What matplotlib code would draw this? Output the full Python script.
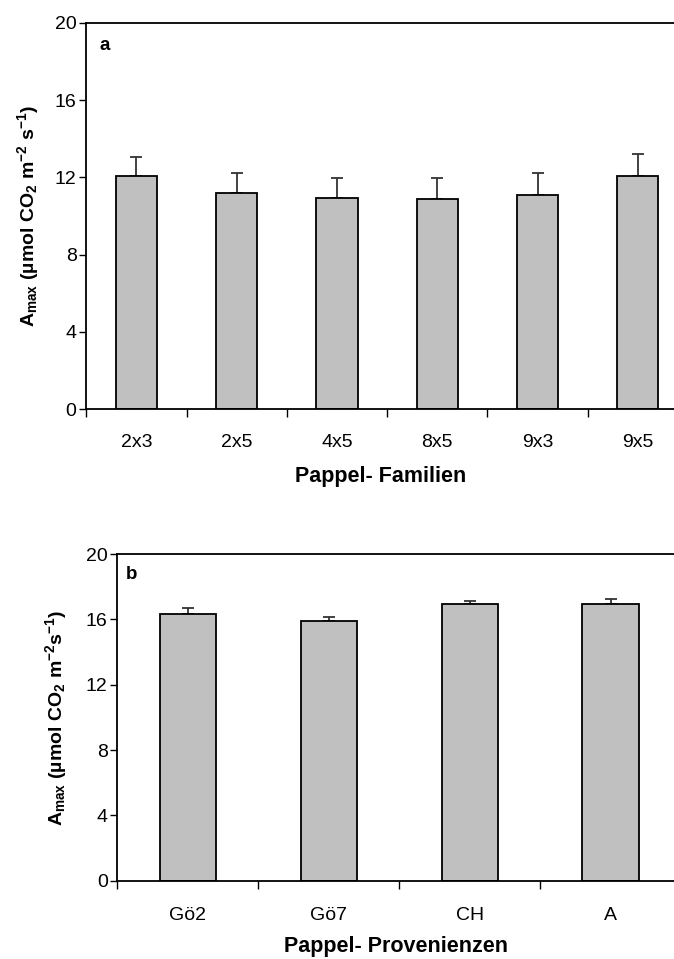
import numpy as np
import matplotlib.pyplot as plt
from matplotlib.ticker import FixedLocator, NullFormatter

families = ['2x3', '2x5', '4x5', '8x5', '9x3', '9x5']
amax_fam = [12.05, 11.2, 10.95, 10.9, 11.1, 12.05]
err_fam = [1.0, 1.05, 1.0, 1.05, 1.1, 1.15]

provenances = ['Gö2', 'Gö7', 'CH', 'A']
amax_prov = [16.35, 15.9, 16.96, 16.96]
err_prov = [0.37, 0.27, 0.17, 0.27]

yticks = [0, 4, 8, 12, 16, 20]
ylab_a = r'A$_{\mathregular{max}}$ (µmol CO$_{\mathregular{2}}$ m$^{\mathregular{-2}}$ s$^{\mathregular{-1}}$)'
ylab_b = r'A$_{\mathregular{max}}$ (µmol CO$_{\mathregular{2}}$ m$^{\mathregular{-2}}$s$^{\mathregular{-1}}$)'

plt.rcParams['font.family'] = ['Liberation Sans', 'DejaVu Sans']
plt.rcParams['mathtext.default'] = 'regular'

fig = plt.figure(figsize=(6.74, 9.59), dpi=100)
ax1 = fig.add_axes([0.128, 0.5732, 0.872, 0.4031])
ax2 = fig.add_axes([0.1742, 0.0816, 0.8258, 0.3407])


def panel(ax, cats, vals, errs, width, xmax, tag, tagx, xlabel, ylabel,
          tickpad, xpad, ypad):
    x = np.arange(len(cats))
    ax.bar(x, vals, width=width, color='#c0c0c0', edgecolor='black', linewidth=1.3, zorder=2)
    ax.errorbar(x, vals, yerr=[np.zeros(len(vals)), errs], fmt='none',
                ecolor='#333333', elinewidth=1.3, capsize=4, capthick=1.3, zorder=1)
    ax.set_xlim(-0.5, xmax)
    ax.set_ylim(0, 20)
    ax.set_yticks(yticks)
    ax.set_yticklabels([str(v) for v in yticks], fontsize=14)
    # ticks sit between categories, labels at the bar centres
    ax.xaxis.set_major_locator(FixedLocator(np.arange(len(cats)) - 0.5))
    ax.xaxis.set_major_formatter(NullFormatter())
    ax.set_xticks(x, minor=True)
    ax.set_xticklabels(cats, minor=True, fontsize=14)
    ax.tick_params(axis='x', which='major', length=6, width=1, direction='out')
    ax.tick_params(axis='x', which='minor', length=0, pad=tickpad)
    ax.tick_params(axis='y', length=5, width=1, direction='out', pad=2)
    for s in ['left', 'bottom', 'top']:
        ax.spines[s].set_linewidth(1.3)
    ax.spines['right'].set_visible(False)
    ax.text(tagx, 0.962, tag, transform=ax.transAxes, fontsize=13.5,
            fontweight='bold', va='top', ha='left')
    ax.set_xlabel(xlabel, fontsize=15.5, fontweight='bold', labelpad=xpad)
    ax.set_ylabel(ylabel, fontsize=14, fontweight='bold', labelpad=ypad)


panel(ax1, families, amax_fam, err_fam, 0.41, 5.36, 'a', 0.023,
      'Pappel- Familien', ylab_a, 17.5, 11, 10)
panel(ax2, provenances, amax_prov, err_prov, 0.40, 3.45, 'b', 0.015,
      'Pappel- Provenienzen', ylab_b, 19, 8.5, 12)

fig.savefig('out.png', dpi=100)
